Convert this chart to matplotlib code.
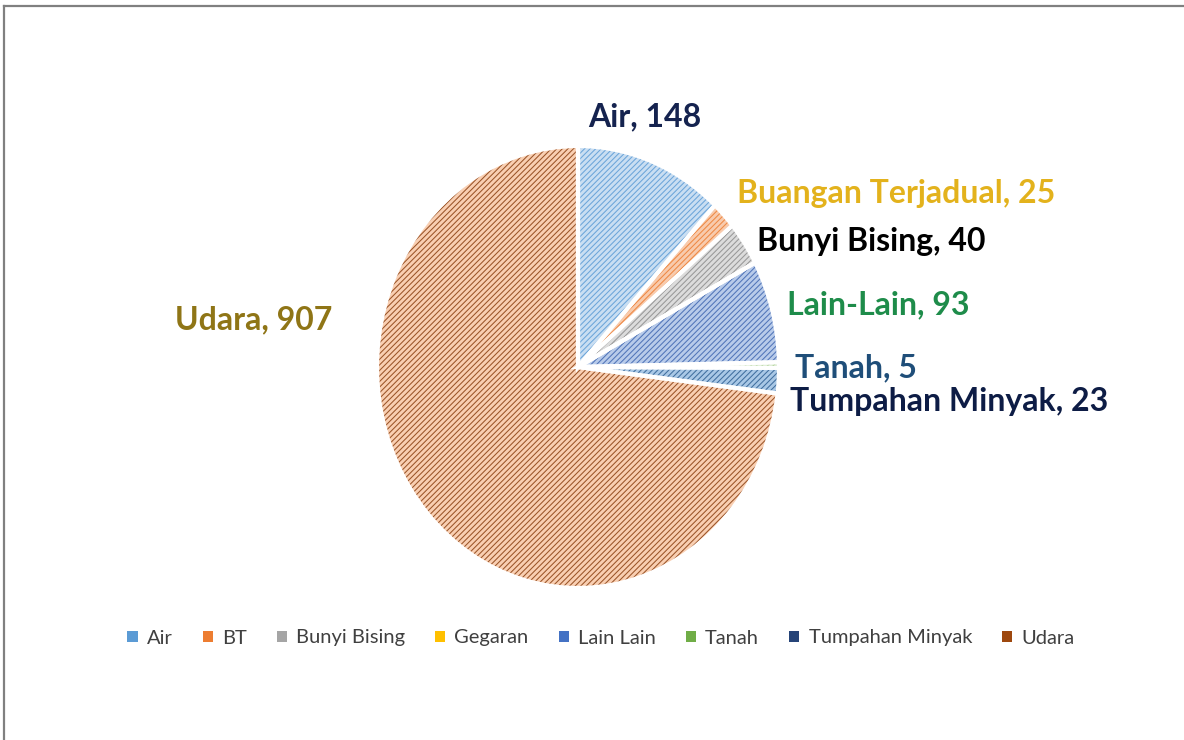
import matplotlib.pyplot as plt
from matplotlib.patches import Patch

# data
kategori = ["Air", "BT", "Bunyi Bising", "Gegaran", "Lain Lain", "Tanah",
            "Tumpahan Minyak", "Udara"]
jumlah = [148, 25, 40, 0, 93, 5, 23, 907]
label_teks = ["Air, 148", "Buangan Terjadual, 25", "Bunyi Bising, 40", None,
              "Lain-Lain, 93", "Tanah, 5", "Tumpahan Minyak, 23", "Udara, 907"]

# styles
warna_isi = ["#c9def2", "#f8cbad", "#dcdcdc", "#ffe699", "#b8cbea", "#c5e0b4",
             "#a9c8e6", "#f9cfb2"]
warna_arsir = ["#5b9bd5", "#ed7d31", "#8c8c8c", "#ffc000", "#3f66b0", "#70ad47",
               "#2e5f92", "#8a3f10"]
warna_legend = ["#5b9bd5", "#ed7d31", "#a5a5a5", "#ffc000", "#4472c4", "#70ad47",
                "#264478", "#9e480e"]
warna_label = ["#15234f", "#e3b21c", "#000000", None, "#1e8c4a", "#1f4e79",
               "#0d1c45", "#8f7516"]
# label position in pixels (left x, centre y)
pos_label = [(588, 117), (737, 193), (757, 242), None, (787, 305), (795, 368),
             (790, 402), (175, 320)]

W, H = 1184, 740
fig = plt.figure(figsize=(W / 100, H / 100), dpi=100)
# the pie in the reference is slightly squeezed sideways
cx, cy, rx, ry = 578, 367, 201, 221
ax = fig.add_axes([(cx - rx) / W, (H - cy - ry) / H, 2 * rx / W, 2 * ry / H])

plt.rcParams['hatch.linewidth'] = 0.75

ax.pie(jumlah, colors=warna_isi, startangle=90, counterclock=False, radius=1,
       wedgeprops=dict(linewidth=0))
arsir, _ = ax.pie(jumlah, startangle=90, counterclock=False, radius=1,
                  wedgeprops=dict(linewidth=0, facecolor="none"))
for w, c in zip(arsir, warna_arsir):
    w.set_edgecolor(c)
    w.set_hatch("//////")
    w.set_alpha(0.85)
ax.pie(jumlah, startangle=90, counterclock=False, radius=1,
       wedgeprops=dict(linewidth=3, edgecolor="white", facecolor="none"))
ax.set_xlim(-1.0, 1.0)
ax.set_ylim(-1.0, 1.0)
ax.set_aspect("auto")
ax.axis("off")

for teks, warna, pos in zip(label_teks, warna_label, pos_label):
    if teks is None:
        continue
    fig.text(pos[0] / W, 1 - pos[1] / H, teks, color=warna, fontsize=23,
             fontweight="bold", family="Lato", ha="left", va="center")

handles = [Patch(facecolor=c, edgecolor="none") for c in warna_legend]
fig.legend(handles, kategori, loc="center", bbox_to_anchor=(601 / W, 1 - 638 / H),
           ncol=8, frameon=False, handlelength=0.5, handleheight=0.5,
           handletextpad=0.45, columnspacing=1.5,
           prop=dict(family="Lato", size=14.5), labelcolor="#404040")

# frame of the chart area
fig.add_artist(plt.Line2D([4 / W, 4 / W], [0, 1 - 6 / H], color="#808080", lw=1.6))
fig.add_artist(plt.Line2D([4 / W, 1], [1 - 6 / H, 1 - 6 / H], color="#808080", lw=1.6))

fig.savefig("out.png", dpi=100)
